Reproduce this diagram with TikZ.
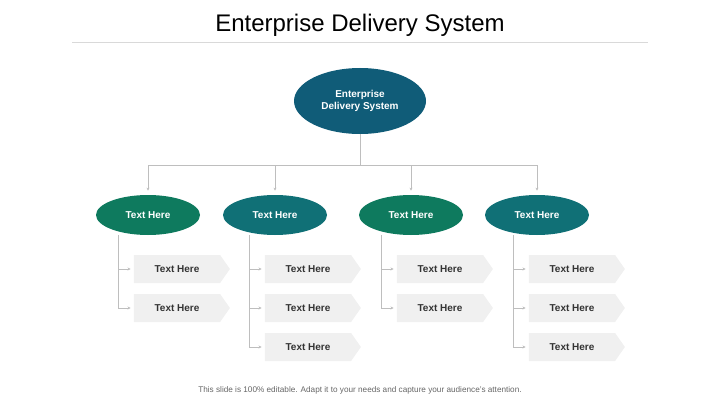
\documentclass[tikz,border=0pt]{standalone}
\usepackage{fontspec}
\setmainfont{Liberation Sans}
\usetikzlibrary{shapes.geometric,shapes.symbols,arrows.meta}
\definecolor{rootblue}{RGB}{16,92,120}
\definecolor{kidgreen}{RGB}{14,122,94}
\definecolor{kidteal}{RGB}{16,112,118}
\definecolor{boxgray}{RGB}{240,240,240}
\definecolor{linegray}{RGB}{190,190,190}
\tikzset{every picture/.style={line width=0.75pt}}
\tikzset{
  rootnode/.style={ellipse,fill=rootblue,minimum width=132pt,minimum height=66pt,inner sep=0pt,text=white,font=\bfseries\fontsize{10}{12}\selectfont,align=center},
  kidnode/.style={ellipse,minimum width=104pt,minimum height=40pt,inner sep=0pt,text=white,font=\bfseries\fontsize{10}{12}\selectfont},
  itembox/.style={signal,signal to=east,signal pointer angle=110,fill=boxgray,minimum width=96pt,minimum height=28pt,inner sep=0pt,font=\bfseries\fontsize{10}{12}\selectfont,text=black!80},
  wire/.style={draw=linegray,line width=0.8pt},
  tip/.style={wire,-{Stealth[length=3pt,width=3pt]}}
}
\begin{document}
\begin{tikzpicture}[x=1pt,y=1pt,yscale=-1,xscale=1]
\useasboundingbox (0,0) rectangle (720,404);

% Title
\node (title) at (360,25) {\fontsize{24}{28}\selectfont Enterprise Delivery System};
\draw [draw=black!15,line width=0.6pt] (72,42) -- (648,42);

% Root
\node [rootnode] (root) at (360,101) {Enterprise\\Delivery System};
\coordinate (bus) at (360,165);
\draw [wire] (root.south) -- (bus);

% Children
\node [kidnode,fill=kidgreen] (k1) at (148,215) {Text Here};
\node [kidnode,fill=kidteal]  (k2) at (275,215) {Text Here};
\node [kidnode,fill=kidgreen] (k3) at (411,215) {Text Here};
\node [kidnode,fill=kidteal]  (k4) at (537,215) {Text Here};
\draw [wire] (k1.north |- bus) -- (k4.north |- bus);
\foreach \k in {k1,k2,k3,k4}
  \draw [tip] (\k.north |- bus) -- ([yshift=-4pt]\k.north);

% Items
\foreach \k/\x/\n in {k1/118/2,k2/249/3,k3/381/2,k4/513/3}{
  \foreach \r in {1,...,\n}{
    \node [itembox] (\k i\r) at (\x+59,230+39*\r) {Text Here};
    \draw [tip] (\x,230+39*\r) -- ([xshift=-3pt]\k i\r.west);
  }
  \coordinate (\k t) at (\x,230+39*\n);
  \draw [wire] (\x,235) -- (\k t);
}

% Footer
\node [text=black!60] (foot) at (360,390) {\fontsize{8.2}{10}\selectfont This slide is 100\% editable. Adapt it to your needs and capture your audience's attention.};
\end{tikzpicture}
\end{document}
